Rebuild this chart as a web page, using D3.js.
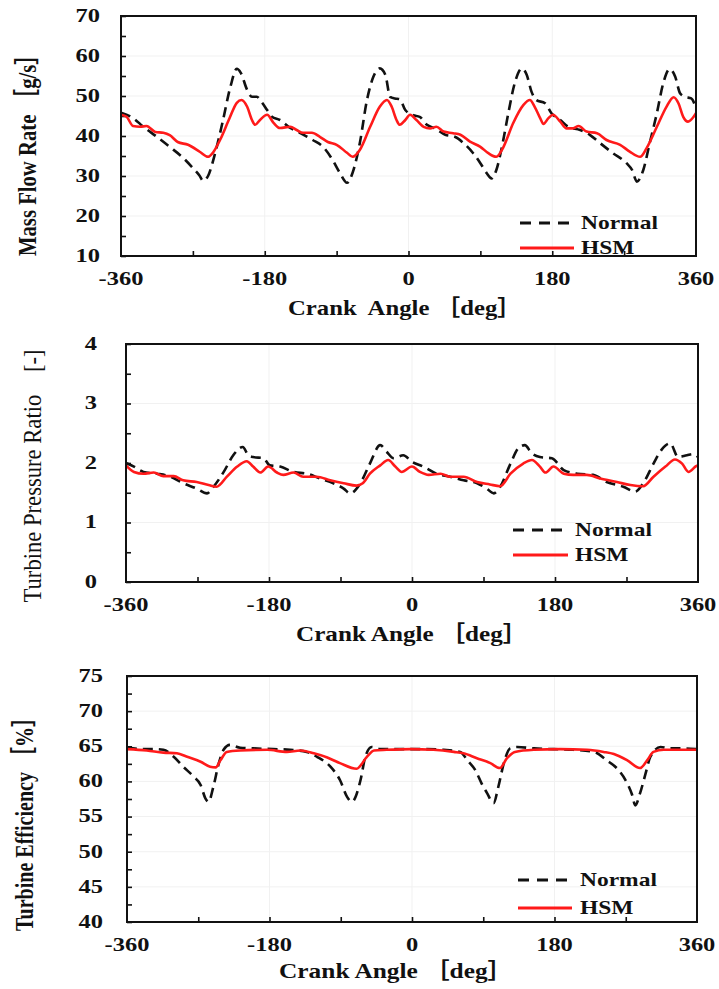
<!DOCTYPE html>
<html>
<head>
<meta charset="utf-8">
<script src="https://cdn.jsdelivr.net/npm/d3@7"></script>
<style>
  html, body { margin: 0; padding: 0; background: #fff; }
  svg text { font-family: "Liberation Serif", "Times New Roman", "Noto Sans CJK JP", serif; white-space: pre; }
</style>
</head>
<body>
<svg id="chart" width="719" height="989"></svg>
<script>
// ---- crank angle axis ----
const angleDomain = [-360, 360];
const angleLabels = [-360, -180, 0, 180, 360];
const angleTicks = [-270, -180, -90, 0, 90, 180, 270];
const seriesNames = ["Normal", "HSM"];

// ---- mass flow rate [g/s]: [crank angle, value] ----
const flowNormal = [
  [-360,45.8],[-345,44.5],[-332,42.3],[-315,39.8],[-299,37.3],[-282,34.5],[-270,32],[-262,30.2],[-257,28.8],
  [-251,30],[-242,35.8],[-233,43.3],[-223,52.3],[-215,56.8],[-210,55.8],[-202,51.5],[-196,49.8],[-190,49.8],
  [-184,48.5],[-177,46.5],[-171,44.8],[-161,44],[-148,42],[-136,40.8],[-120,39],[-107,37.3],[-95,34],[-86,30.8],
  [-77,28.3],[-70,30.8],[-61,38.2],[-52,49],[-44,54.8],[-36,56.9],[-29,55.3],[-23,49.8],[-17,49.4],[-11,49.2],
  [-4,46.5],[6,45.2],[14,44.8],[23,42.8],[33,41.9],[46,40.3],[58,39.8],[69,38.2],[81,35.7],[90,33.2],[98,30.7],
  [104,29.4],[110,31.5],[117,37.3],[125,45.7],[133,53.2],[142,56.9],[148,55.3],[154,51.1],[160,49],[171,48.2],
  [179,45.7],[190,44],[200,42.3],[215,41.5],[227,40.3],[240,38.2],[256,35.7],[273,33.2],[280,31.5],[286,28.6],
  [294,31.5],[302,38.2],[311,45.7],[319,53.2],[327,56.7],[334,54.8],[340,50.7],[346,49.8],[354,49.4],[360,47]
];
const flowHSM = [
  [-360,45.3],[-353,44.8],[-345,42.5],[-336,42.3],[-328,42.5],[-317,41],[-307,40.8],[-299,40.2],[-289,38.5],
  [-276,37.8],[-261,36],[-251,34.8],[-245,35.8],[-236,39],[-224,44.5],[-215,48.3],[-209,49],[-202,47.3],
  [-196,44],[-192,42.8],[-186,44],[-177,45.3],[-169,43.3],[-161,42],[-148,42.3],[-140,41.5],[-132,40.8],
  [-121,40.8],[-111,39.8],[-101,38.5],[-90,37.8],[-77,35.8],[-70,34.8],[-61,36.5],[-48,42.3],[-36,47.3],
  [-27,49],[-21,47.3],[-15,44],[-11,42.8],[-4,44],[2,45.3],[10,44],[19,42.3],[27,41.9],[35,42.3],[44,41.1],
  [56,40.7],[65,40.3],[77,38.6],[90,37.3],[100,35.7],[110,34.8],[119,37.3],[131,43.2],[144,47.8],[152,49],
  [158,47.3],[165,44.4],[169,43],[175,44.4],[181,45.3],[190,43.6],[198,41.9],[206,41.9],[213,42.5],[223,41.1],
  [236,40.7],[248,39],[265,37.8],[277,36.1],[290,34.8],[298,36.9],[311,42.3],[323,47.3],[332,49.7],[338,48.2],
  [344,44.8],[350,43.6],[357,44.8],[360,45.7]
];

// ---- turbine pressure ratio [-] ----
const prNormal = [
  [-360,2.0],[-350,1.94],[-338,1.85],[-321,1.82],[-304,1.77],[-288,1.66],[-271,1.57],[-258,1.49],[-250,1.6],
  [-237,1.85],[-225,2.13],[-213,2.27],[-206,2.13],[-200,2.1],[-187,2.08],[-179,1.96],[-166,1.94],[-149,1.85],
  [-132,1.82],[-116,1.74],[-99,1.66],[-86,1.57],[-78,1.49],[-65,1.66],[-53,1.99],[-40,2.3],[-32,2.19],[-23,2.08],
  [-11,2.13],[0,2.02],[14,1.94],[31,1.82],[48,1.77],[65,1.71],[82,1.66],[94,1.57],[103,1.49],[111,1.6],[124,1.99],
  [134,2.25],[142,2.3],[151,2.16],[161,2.1],[176,2.08],[191,1.88],[208,1.82],[228,1.8],[245,1.68],[266,1.6],
  [281,1.52],[291,1.66],[304,1.99],[314,2.22],[325,2.33],[335,2.1],[346,2.13],[354,2.15],[360,2.1]
];
const prHSM = [
  [-360,1.96],[-350,1.85],[-338,1.82],[-325,1.84],[-313,1.78],[-300,1.78],[-288,1.71],[-271,1.68],[-256,1.63],
  [-246,1.6],[-233,1.77],[-220,1.94],[-208,2.03],[-200,1.94],[-191,1.84],[-181,1.94],[-170,1.84],[-162,1.8],
  [-149,1.84],[-137,1.77],[-120,1.77],[-103,1.71],[-86,1.66],[-70,1.62],[-62,1.66],[-53,1.82],[-40,1.96],
  [-30,2.05],[-21,1.94],[-13,1.85],[0,1.94],[10,1.85],[21,1.8],[36,1.82],[48,1.77],[65,1.77],[82,1.68],[98,1.64],
  [111,1.61],[124,1.82],[140,1.99],[151,2.05],[161,1.94],[168,1.84],[178,1.94],[191,1.82],[203,1.8],[220,1.8],
  [237,1.74],[258,1.68],[275,1.63],[291,1.61],[304,1.77],[319,1.94],[331,2.06],[340,1.99],[348,1.85],[358,1.95],
  [360,1.96]
];

// ---- turbine efficiency [%] ----
const effNormal = [
  [-360,64.9],[-343,64.6],[-326,64.6],[-314,64.5],[-301,63.5],[-289,62.1],[-276,60.7],[-267,59.5],[-261,57.6],
  [-257,57.1],[-251,59.2],[-244,62.6],[-238,64.5],[-230,65.2],[-217,64.8],[-200,64.7],[-175,64.6],[-154,64.5],
  [-133,64.2],[-120,63.5],[-103,62.1],[-91,60.2],[-82,57.8],[-76,57.1],[-65,60.2],[-59,63.5],[-51,64.9],[-40,64.6],
  [-23,64.6],[-2,64.6],[19,64.6],[40,64.5],[61,64.2],[70,63],[80,61.6],[88,59.7],[95,58.3],[103,56.9],[109,59.2],
  [116,62.6],[124,64.7],[133,64.9],[154,64.7],[179,64.6],[204,64.5],[230,64.2],[246,63],[261,61.6],[272,59.7],
  [278,58.1],[282,56.6],[288,58.3],[295,61.1],[301,63.5],[314,64.9],[326,64.7],[343,64.7],[360,64.6]
];
const effHSM = [
  [-360,64.6],[-335,64.4],[-314,64.1],[-297,64],[-284,63.5],[-267,62.8],[-255,62.1],[-248,62],[-242,63],
  [-234,64.2],[-217,64.4],[-183,64.5],[-158,64.2],[-141,64.4],[-124,64],[-107,63.4],[-91,62.6],[-70,61.8],
  [-57,63.5],[-48,64.4],[-32,64.5],[-2,64.6],[27,64.5],[53,64.2],[65,64],[82,63.3],[99,62.6],[111,61.9],
  [120,63.3],[130,64.2],[154,64.5],[187,64.6],[221,64.5],[242,64.2],[255,63.9],[272,63],[288,61.9],[297,63],
  [305,64.2],[318,64.5],[360,64.5]
];

// ---- value axes ----
const flowLabels = [10, 20, 30, 40, 50, 60, 70];
const flowTicks = [10, 15, 20, 25, 30, 35, 40, 45, 50, 55, 60, 65, 70];
const prLabels = [0, 1, 2, 3, 4];
const prTicks = [0, 0.5, 1, 1.5, 2, 2.5, 3, 3.5, 4];
const effLabels = [40, 45, 50, 55, 60, 65, 70, 75];
const effTicks = [40, 42.5, 45, 47.5, 50, 52.5, 55, 57.5, 60, 62.5, 65, 67.5, 70, 72.5, 75];

// ---- panel layout ----
const panels = [
  { box: { left: 121, right: 696, top: 16, bottom: 256 }, domain: [10, 70],
    labels: flowLabels, ticks: flowTicks, normal: flowNormal, hsm: flowHSM,
    yLabelGap: 21, yTitle: "Mass Flow Rate ［g/s］", yTitleX: 27, yTitleY: 150, yTitleLen: 212, yTitleWeight: "bold",
    xTitle: "Crank  Angle ［deg］", xTitleX: 405, xTitleY: 307, xTitleLen: 234,
    legend: { x0: 520, x1: 574, y0: 223, y1: 248, tx: 581 } },
  { box: { left: 126, right: 698, top: 344, bottom: 582 }, domain: [0, 4],
    labels: prLabels, ticks: prTicks, normal: prNormal, hsm: prHSM,
    yLabelGap: 29, yTitle: "Turbine Pressure Ratio    [-]", yTitleX: 32, yTitleY: 476, yTitleLen: 253, yTitleWeight: "normal",
    xTitle: "Crank Angle ［deg］", xTitleX: 412, xTitleY: 633, xTitleLen: 232,
    legend: { x0: 513, x1: 568, y0: 530, y1: 555, tx: 575 } },
  { box: { left: 127, right: 697, top: 676, bottom: 922 }, domain: [40, 75],
    labels: effLabels, ticks: effTicks, normal: effNormal, hsm: effHSM,
    yLabelGap: 24, yTitle: "Turbine Efficiency ［%］", yTitleX: 24, yTitleY: 819, yTitleLen: 224, yTitleWeight: "bold",
    xTitle: "Crank Angle ［deg］", xTitleX: 396, xTitleY: 970, xTitleLen: 234,
    legend: { x0: 518, x1: 572, y0: 880, y1: 908, tx: 580 } }
];

const svg = d3.select("#chart");
svg.append("rect").attr("width", 719).attr("height", 989).attr("fill", "#fff");

const TICK_FONT = 18, TICK_SX = 1.36;
const NORMAL_STYLE = { stroke: "#111", width: 2.6, dash: "10,6" };
const HSM_STYLE = { stroke: "#ff1a1a", width: 2.6, dash: null };

// text squeezed/stretched horizontally around its anchor point
function wideText(g, x, y, str, o) {
  return g.append("text")
    .attr("transform", `translate(${x},${y}) scale(${o.sx || 1},1)`)
    .attr("text-anchor", o.anchor || "start")
    .attr("dominant-baseline", "central")
    .attr("font-size", o.size)
    .attr("font-weight", o.weight || "bold")
    .attr("fill", "#111")
    .text(str);
}

panels.forEach(p => {
  const b = p.box;
  const g = svg.append("g");
  const x = d3.scaleLinear().domain(angleDomain).range([b.left, b.right]);
  const y = d3.scaleLinear().domain(p.domain).range([b.bottom, b.top]);

  // faint grid
  g.append("g").selectAll("line").data(p.labels.slice(1, -1)).join("line")
    .attr("x1", b.left).attr("x2", b.right).attr("y1", d => y(d)).attr("y2", d => y(d))
    .attr("stroke", "#f1f1f1").attr("stroke-width", 1);
  g.append("g").selectAll("line").data(angleLabels.slice(1, -1)).join("line")
    .attr("y1", b.top).attr("y2", b.bottom).attr("x1", d => x(d)).attr("x2", d => x(d))
    .attr("stroke", "#f1f1f1").attr("stroke-width", 1);

  // inward tick marks
  const ax = g.append("g").attr("transform", `translate(0,${b.bottom})`)
    .call(d3.axisBottom(x).tickValues(angleTicks).tickSize(-5).tickFormat(""));
  const ay = g.append("g").attr("transform", `translate(${b.left},0)`)
    .call(d3.axisLeft(y).tickValues(p.ticks).tickSize(-5).tickFormat(""));
  [ax, ay].forEach(a => {
    a.select(".domain").remove();
    a.selectAll("line").attr("stroke", "#111").attr("stroke-width", 1.6);
  });

  // series
  const line = d3.line().x(d => x(d[0])).y(d => y(d[1])).curve(d3.curveMonotoneX);
  g.append("path").datum(p.normal).attr("d", line).attr("fill", "none")
    .attr("stroke", NORMAL_STYLE.stroke).attr("stroke-width", NORMAL_STYLE.width)
    .attr("stroke-dasharray", NORMAL_STYLE.dash);
  g.append("path").datum(p.hsm).attr("d", line).attr("fill", "none")
    .attr("stroke", HSM_STYLE.stroke).attr("stroke-width", HSM_STYLE.width)
    .attr("stroke-linejoin", "round");

  // frame
  g.append("rect").attr("x", b.left).attr("y", b.top)
    .attr("width", b.right - b.left).attr("height", b.bottom - b.top)
    .attr("fill", "none").attr("stroke", "#111").attr("stroke-width", 2);

  // tick labels
  p.labels.forEach(v => wideText(g, b.left - p.yLabelGap, y(v), String(v),
    { size: TICK_FONT, sx: TICK_SX, anchor: "end" }));
  angleLabels.forEach(v => wideText(g, x(v), b.bottom + 23, String(v),
    { size: TICK_FONT, sx: TICK_SX, anchor: "middle" }));

  // axis titles
  g.append("text")
    .attr("x", p.xTitleX).attr("y", p.xTitleY)
    .attr("text-anchor", "middle").attr("dominant-baseline", "central")
    .attr("font-size", 22).attr("font-weight", "bold").attr("fill", "#111")
    .attr("textLength", p.xTitleLen).attr("lengthAdjust", "spacingAndGlyphs")
    .text(p.xTitle);
  g.append("text")
    .attr("transform", `translate(${p.yTitleX},${p.yTitleY}) scale(1.35,1) rotate(-90)`)
    .attr("text-anchor", "middle").attr("dominant-baseline", "central")
    .attr("font-size", 19).attr("font-weight", p.yTitleWeight).attr("fill", "#111")
    .attr("textLength", p.yTitleLen).attr("lengthAdjust", "spacingAndGlyphs")
    .text(p.yTitle);

  // legend
  const L = p.legend;
  g.append("line").attr("x1", L.x0).attr("x2", L.x1).attr("y1", L.y0).attr("y2", L.y0)
    .attr("stroke", NORMAL_STYLE.stroke).attr("stroke-width", 2.8).attr("stroke-dasharray", "11,8");
  g.append("line").attr("x1", L.x0).attr("x2", L.x1).attr("y1", L.y1).attr("y2", L.y1)
    .attr("stroke", HSM_STYLE.stroke).attr("stroke-width", 2.8);
  wideText(g, L.tx, L.y0, seriesNames[0], { size: 18.5, sx: 1.27 });
  wideText(g, L.tx, L.y1, seriesNames[1], { size: 18.5, sx: 1.27 });
});
</script>
</body>
</html>
